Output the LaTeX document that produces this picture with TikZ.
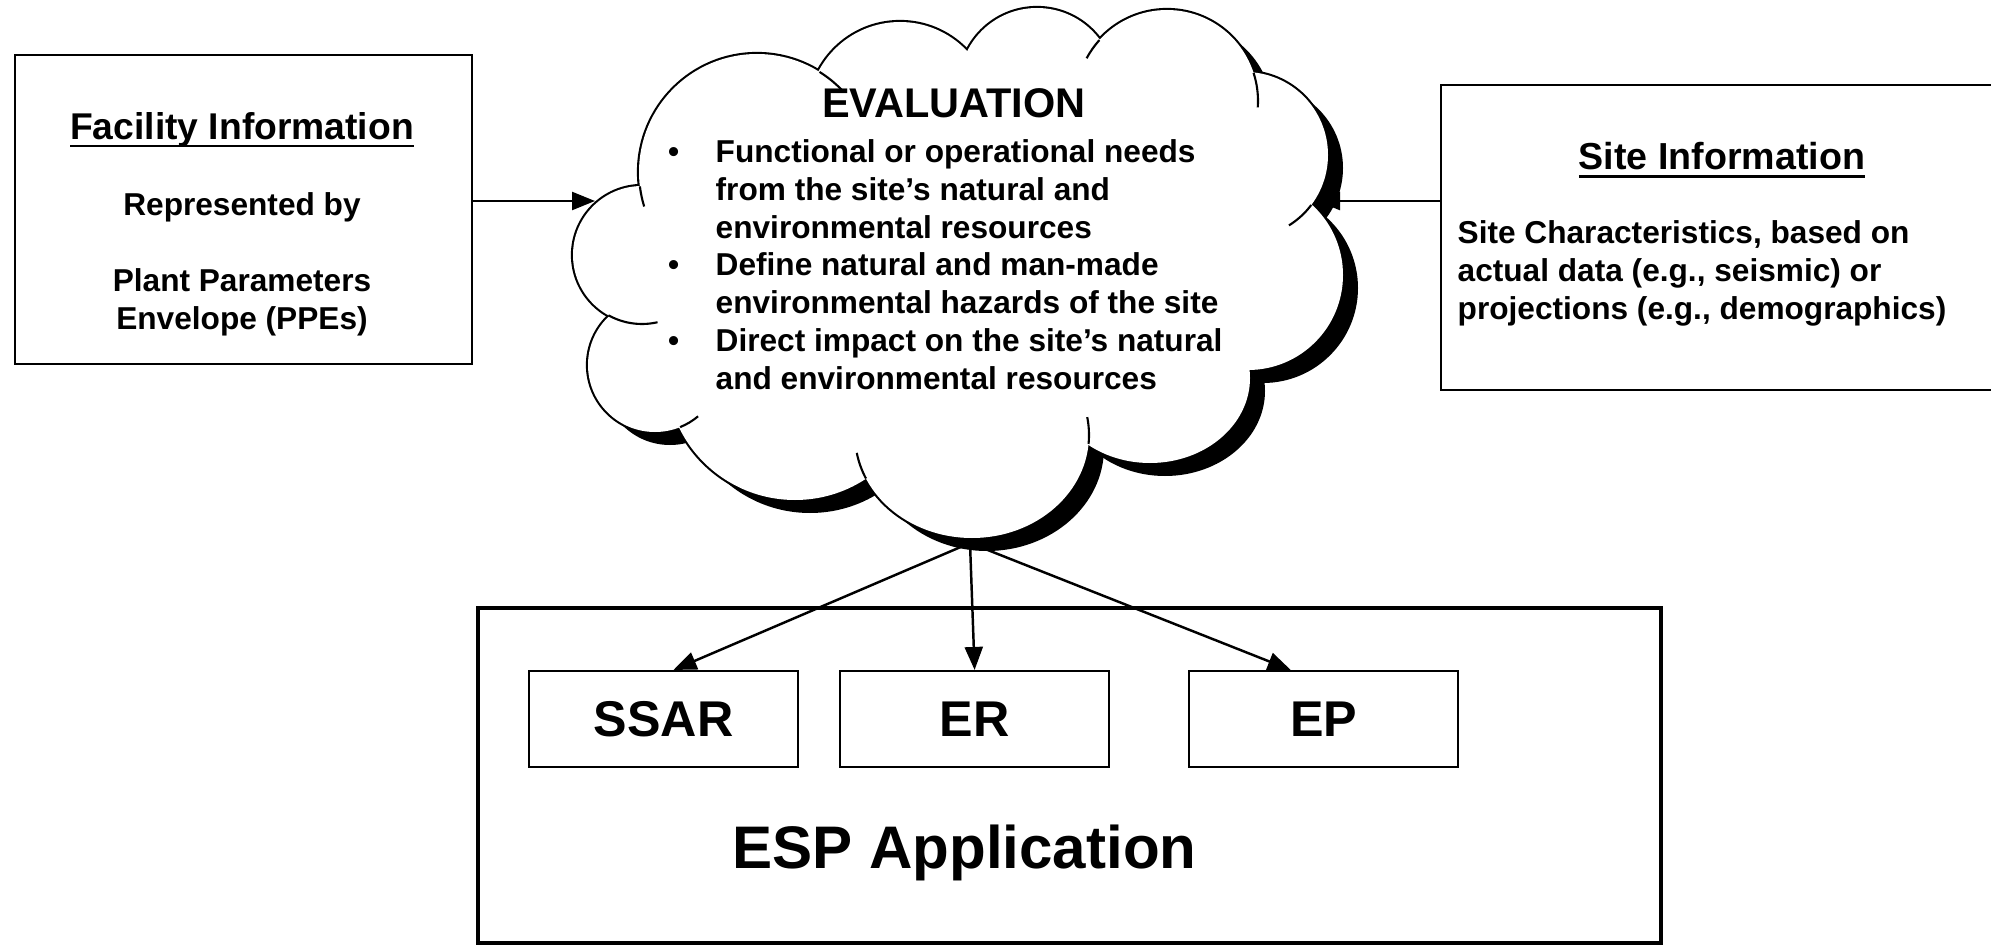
\documentclass[tikz,border=0pt]{standalone}
\usepackage{fontspec}
\setmainfont{Liberation Sans}
\usetikzlibrary{arrows.meta, positioning}
\newcommand\hdrule[1]{\setbox0\hbox{#1}\rlap{\rule[-2.2pt]{\wd0}{0.7pt}}\box0}
\newcommand\bul{\makebox[4.75mm][l]{\textbullet}}
\newcommand\ind{\hspace*{4.75mm}}
\tikzset{infobox/.style = {draw, line width=0.6pt, inner sep=0pt}}
\tikzset{infotext/.style = {inner sep=0pt, font=\bfseries\fontsize{9}{10.8}\selectfont}}
\tikzset{subbox/.style = {draw, line width=0.6pt, minimum width=2.69cm, minimum height=0.96cm, inner sep=0pt, font=\bfseries\fontsize{14.3}{16}\selectfont}}
\tikzset{arr/.style = {line width=0.7pt, -{Triangle[length=2.3mm, width=1.8mm]}}}

\begin{document}
\begin{tikzpicture}
\useasboundingbox (0,0) rectangle (19.91,9.46);
\clip (0,0) rectangle (19.91,9.46);

% evaluation cloud: puffs x/y/x radius/y radius
\def\cloudpuffs{7.57/7.74/1.18/1.18, 9.00/8.32/0.92/0.92, 10.37/8.60/0.78/0.78,
  11.67/8.45/0.91/0.91, 12.45/7.91/0.83/0.83, 12.48/6.71/0.95/0.95,
  11.50/5.68/1.00/0.85, 9.72/5.11/1.17/1.03, 7.95/5.75/1.29/1.29,
  6.55/5.81/0.67/0.67, 6.42/6.91/0.69/0.69}
% shadow
\foreach \x/\y/\a/\b in \cloudpuffs
  \fill[black] (\x+0.15,\y-0.13) ellipse [x radius=\a, y radius=\b];
\fill[black] (9.72,6.63) ellipse [x radius=2.9, y radius=1.9];
% rim, then white body over its inner half
\foreach \x/\y/\a/\b in \cloudpuffs
  \draw[line width=1.2pt] (\x,\y) ellipse [x radius=\a, y radius=\b];
\foreach \x/\y/\a/\b in \cloudpuffs
  \fill[white] (\x,\y) ellipse [x radius=\a, y radius=\b];
\fill[white] (9.57,6.76) ellipse [x radius=2.9, y radius=1.9];
% short inner ends of the puffs
\foreach \cx/\cy/\r/\s/\e in {7.57/7.74/1.18/58/44, 7.57/7.74/1.18/187/197,
  11.67/8.45/0.91/18/-4, 11.67/8.45/0.91/138/152, 12.45/7.91/0.83/-37/-58,
  6.42/6.91/0.69/241/283, 6.55/5.81/0.67/292/310}
  \draw[line width=0.6pt] ([shift={(\s:\r)}]\cx,\cy) arc[start angle=\s, end angle=\e, radius=\r];
\foreach \s/\e in {-5/10, 205/190}
  \draw[line width=0.6pt] ([shift={(\s:1.17 and 1.03)}]9.72,5.11) arc[start angle=\s, end angle=\e, x radius=1.17, y radius=1.03];
\coordinate (clL) at (5.95,7.45);
\coordinate (clR) at (13.17,7.45);
\coordinate (clB) at (9.70,4.03);

\node[infotext, anchor=base, font=\bfseries\fontsize{11.8}{13}\selectfont] (evalhd) at (9.54,8.28) {EVALUATION};
\node[infotext, align=left, anchor=north west] (evaltxt) at (6.675,8.075) {\bul Functional or operational needs\\
  \ind from the site's natural and\\
  \ind environmental resources\\
  \bul Define natural and man-made\\
  \ind environmental hazards of the site\\
  \bul Direct impact on the site's natural\\
  \ind and environmental resources};

% input boxes
\node[infobox, minimum width=4.57cm, minimum height=3.09cm] (fac) at (2.435,7.365) {};
\node[infotext, align=center, anchor=north] (factxt) at (2.42,8.34) {{\fontsize{10.6}{10.8}\selectfont\hdrule{Facility Information}}\\[10.8pt]
  Represented by\\[10.8pt]
  Plant Parameters\\
  Envelope (PPEs)};

\node[infobox, minimum width=5.89cm, minimum height=3.05cm] (site) at (17.355,7.085) {};
\node[infotext, anchor=base, font=\bfseries\fontsize{10.7}{12}\selectfont] (sitehd) at (17.22,7.76) {\hdrule{Site Information}};
\node[infotext, align=left, anchor=north west] (sitetxt) at (14.57,7.265) {Site Characteristics, based on\\
  actual data (e.g., seismic) or\\
  projections (e.g., demographics)};

% application box
\node[draw, line width=1.1pt, minimum width=11.83cm, minimum height=3.35cm] (esp) at (10.695,1.705) {};
\node[subbox] (ssar) at (6.635,2.27) {SSAR};
\node[subbox, right=4mm of ssar] (er) {ER};
\node[subbox, right=7.8mm of er] (ep) {EP};
\node[infotext, anchor=base, font=\bfseries\fontsize{17.1}{19}\selectfont] (esplbl) at (9.645,0.78) {ESP Application};

% connectors
\draw[arr] (fac.east |- clL) -- (clL);
\draw[arr] (site.west |- clR) -- (clR);
\draw[arr] (clB) -- ([xshift=1mm]ssar.north);
\draw[arr] (clB) -- (er.north);
\draw[arr] (clB) -- ([xshift=-3.3mm]ep.north);
\end{tikzpicture}
\end{document}
